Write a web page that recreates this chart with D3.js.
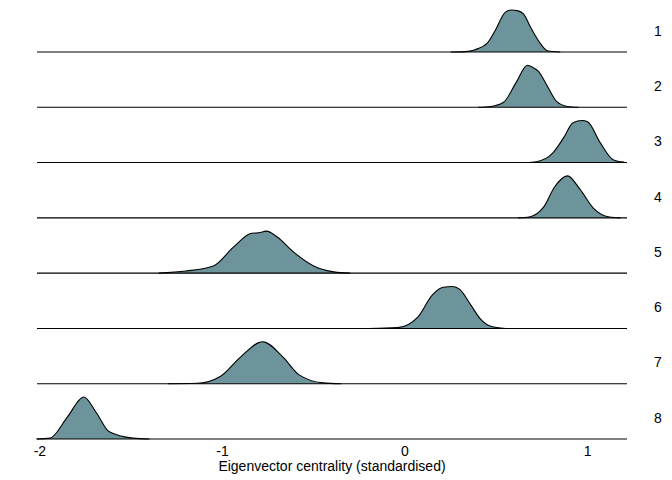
<!DOCTYPE html>
<html>
<head>
<meta charset="utf-8">
<script src="https://cdn.jsdelivr.net/npm/d3@7"></script>
<style>
  body { margin: 0; background: #fff; }
  text { font-family: "Liberation Sans", Arial, sans-serif; }
</style>
</head>
<body>
<svg id="chart" width="672" height="480"></svg>
<script>
// Categories (ridge labels, top to bottom)
const categories = ["1", "2", "3", "4", "5", "6", "7", "8"];

// Density curves: [value, relative height]
const ridge1 = [[0.25,0],[0.33,0.01],[0.38,0.05],[0.45,0.21],[0.49,0.48],[0.55,0.95],[0.58,1.0],[0.62,0.98],[0.65,0.9],[0.69,0.57],[0.74,0.21],[0.78,0.03],[0.85,0]];
const ridge2 = [[0.40,0],[0.47,0.02],[0.54,0.12],[0.61,0.6],[0.67,1.0],[0.70,0.95],[0.73,0.86],[0.78,0.5],[0.83,0.14],[0.89,0.02],[0.95,0]];
const ridge3 = [[0.66,0],[0.72,0.02],[0.81,0.23],[0.87,0.6],[0.92,0.95],[0.97,1.0],[1.0,0.97],[1.07,0.47],[1.14,0.07],[1.2,0.01]];
const ridge4 = [[0.62,0],[0.68,0.02],[0.76,0.26],[0.82,0.74],[0.89,1.0],[0.96,0.67],[1.03,0.24],[1.12,0.02],[1.18,0]];
const ridge5 = [[-1.35,0],[-1.2,0.05],[-1.05,0.17],[-0.94,0.62],[-0.84,0.95],[-0.8,0.96],[-0.76,1.0],[-0.70,0.86],[-0.61,0.5],[-0.50,0.17],[-0.39,0.03],[-0.3,0]];
const ridge6 = [[-0.2,0],[-0.04,0.02],[0.07,0.27],[0.15,0.8],[0.21,0.98],[0.26,1.0],[0.30,0.93],[0.36,0.56],[0.41,0.24],[0.47,0.05],[0.55,0]];
const ridge7 = [[-1.3,0],[-1.14,0.01],[-1.01,0.18],[-0.9,0.64],[-0.78,1.0],[-0.67,0.64],[-0.58,0.21],[-0.45,0.02],[-0.35,0]];
const ridge8 = [[-2.02,0],[-1.945,0.02],[-1.85,0.52],[-1.76,1.0],[-1.69,0.62],[-1.62,0.17],[-1.49,0.02],[-1.4,0]];
const ridges = [ridge1, ridge2, ridge3, ridge4, ridge5, ridge6, ridge7, ridge8];

const xTicks = [-2, -1, 0, 1];

const svg = d3.select("#chart");

// Scales
const x = d3.scaleLinear().domain([-2.016, 1.216]).range([37, 627]);
const y = d3.scalePoint().domain(categories).range([52, 439]);
const h = d3.scaleLinear().domain([0, 1]).range([0, 42]);

const area = d3.area()
  .curve(d3.curveMonotoneX)
  .x(d => x(d[0]))
  .y0(0)
  .y1(d => -h(d[1]));

const line = d3.line()
  .curve(d3.curveMonotoneX)
  .x(d => x(d[0]))
  .y(d => -h(d[1]));

const rows = svg.selectAll(".ridge")
  .data(categories)
  .enter()
  .append("g")
  .attr("class", "ridge")
  .attr("transform", d => `translate(0,${y(d)})`);

rows.append("path")
  .attr("d", (d, i) => area(ridges[i]))
  .attr("fill", "#6c949a");

rows.append("line")
  .attr("x1", x.range()[0])
  .attr("x2", x.range()[1])
  .attr("stroke", "#000")
  .attr("stroke-width", 1.1);

rows.append("path")
  .attr("d", (d, i) => line(ridges[i]))
  .attr("fill", "none")
  .attr("stroke", "#000")
  .attr("stroke-width", 1.1);

// Right-side labels
rows.append("text")
  .attr("x", 658)
  .attr("y", -20)
  .attr("text-anchor", "middle")
  .attr("dominant-baseline", "middle")
  .style("font-size", "14px")
  .text(d => d);

// Bottom axis labels
svg.selectAll(".xtick")
  .data(xTicks)
  .enter()
  .append("text")
  .attr("class", "xtick")
  .attr("x", d => x(d))
  .attr("y", 456)
  .attr("text-anchor", "middle")
  .style("font-size", "14px")
  .text(d => d);

svg.append("text")
  .attr("x", 332)
  .attr("y", 471)
  .attr("text-anchor", "middle")
  .style("font-size", "14px")
  .text("Eigenvector centrality (standardised)");
</script>
</body>
</html>
